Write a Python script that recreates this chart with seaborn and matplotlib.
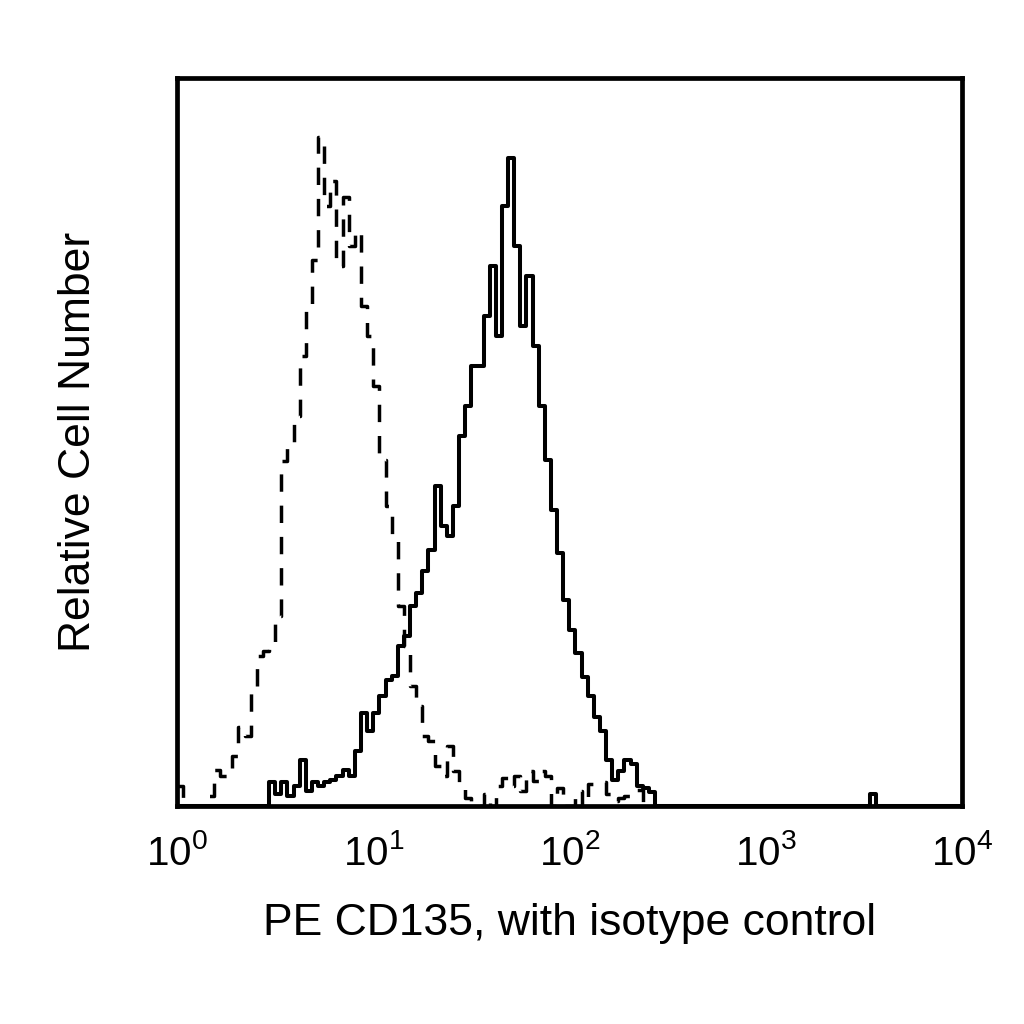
import numpy as np
import pandas as pd
import matplotlib
matplotlib.use('Agg')
import matplotlib.pyplot as plt
import seaborn as sns

# log channels: 32 per decade over 4 decades (10^0 .. 10^4)
channels_per_decade = 32
n_decades = 4

# relative cell number per channel (channel 0 upwards)
isotype_counts = [20, 0, 0, 0, 0, 10, 36, 30, 30, 50, 79, 70, 113, 150, 155, 160,
                  190, 345, 363, 390, 450, 500, 546, 669, 600, 625, 540, 609, 560, 575, 500, 470,
                  420, 346, 300, 270, 200, 160, 120, 100, 70, 65, 40, 30, 60, 35, 20, 8,
                  0, 0, 12, 0, 20, 28, 20, 30, 15, 35, 25, 35, 30, 0, 18, 0,
                  0, 15, 0, 22, 24, 24, 12, 5, 8, 10, 14, 16, 0, 0]
cd135_counts = [0, 0, 0, 0, 0, 0, 0, 0, 0, 0, 0, 0, 0, 0, 0, 24,
                12, 24, 10, 20, 46, 15, 24, 20, 24, 26, 30, 36, 30, 55, 93, 75,
                93, 110, 126, 130, 160, 170, 200, 213, 235, 256, 320, 280, 270, 300, 370, 400,
                440, 440, 490, 540, 470, 600, 648, 560, 480, 530, 460, 400, 346, 296, 253, 206,
                176, 153, 129, 110, 89, 75, 46, 26, 35, 46, 42, 20, 18, 14]
cd135_extra_channel = [113]
cd135_extra_count = [12]

decades = [0, 1, 2, 3, 4]
decade_labels = [r'$\mathregular{10^{%d}}$' % d for d in decades]


def to_frame(channels, counts):
    channels = np.asarray(channels)
    return pd.DataFrame({'log_pe': (channels + 0.5) / channels_per_decade,
                         'count': counts})


iso_df = to_frame(np.arange(len(isotype_counts)), isotype_counts)
cd_df = pd.concat([to_frame(np.arange(len(cd135_counts)), cd135_counts),
                   to_frame(cd135_extra_channel, cd135_extra_count)])
bin_kws = dict(binwidth=1 / channels_per_decade, binrange=(0, n_decades))

sns.set_style('white')
plt.rcParams['font.family'] = ['Liberation Sans', 'DejaVu Sans']
plt.rcParams['text.color'] = 'black'
plt.rcParams['axes.labelcolor'] = 'black'
plt.rcParams['xtick.color'] = 'black'

fig = plt.figure(figsize=(10.24, 10.24), dpi=100)
ax = fig.add_axes([0.173, 0.213, 0.766, 0.711])

sns.histplot(data=iso_df, x='log_pe', weights='count', **bin_kws,
             element='step', fill=False, color='black', linewidth=2.5,
             linestyle=(0, (5, 4)), ax=ax)
sns.histplot(data=cd_df, x='log_pe', weights='count', **bin_kws,
             element='step', fill=False, color='black', linewidth=2.9, ax=ax)

ax.set_xlim(0, n_decades)
ax.set_ylim(0, 728)
ax.set_xticks(decades)
ax.set_xticklabels(decade_labels)
ax.set_yticks([])
ax.tick_params(axis='x', length=0, pad=20, labelsize=29)
for sp in ax.spines.values():
    sp.set_visible(True)
    sp.set_color('black')
    sp.set_linewidth(3.4)

ax.set_xlabel('PE CD135, with isotype control', fontsize=32, labelpad=22)
ax.set_ylabel('Relative Cell Number', fontsize=32, labelpad=56)

fig.savefig('out.png', dpi=100, facecolor='white')
